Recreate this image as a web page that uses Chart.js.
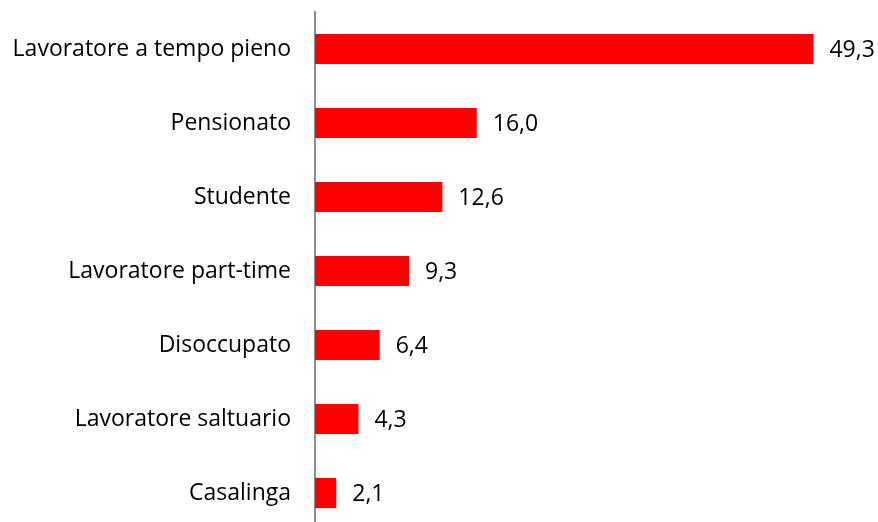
<!DOCTYPE html>
<html>
<head>
<meta charset="utf-8">
<script src="https://cdn.jsdelivr.net/npm/chart.js@4.4.0/dist/chart.umd.min.js"></script>
<style>
  html, body { margin: 0; padding: 0; background: #fff; overflow: hidden; }
  #box { width: 878px; height: 522px; overflow: hidden; }
</style>
</head>
<body>
<div id="box"><canvas id="myCanvasOccupazione" width="878" height="530"></canvas></div>
<script>
var categorie = ['Lavoratore a tempo pieno', 'Pensionato', 'Studente', 'Lavoratore part-time',
                 'Disoccupato', 'Lavoratore saltuario', 'Casalinga'];
var percentuali = [49.3, 16.0, 12.6, 9.3, 6.4, 4.3, 2.1];

var fontBase = "'Open Sans', 'Noto Sans', sans-serif";

// etichette dei valori a destra delle barre
var etichetteValori = {
    id: 'etichetteValori',
    afterDatasetsDraw: function(chart) {
        var ctx = chart.ctx;
        var meta = chart.getDatasetMeta(0);
        ctx.save();
        ctx.font = '23px ' + fontBase;
        ctx.fillStyle = '#000';
        ctx.textAlign = 'left';
        ctx.textBaseline = 'middle';
        meta.data.forEach(function(bar, i) {
            var testo = percentuali[i].toFixed(1).replace('.', ',');
            ctx.fillText(testo, bar.x + 16, bar.y + 1);
        });
        ctx.restore();
    }
};

var grafico = new Chart(document.getElementById('myCanvasOccupazione'), {
    type: 'bar',
    data: {
        labels: categorie,
        datasets: [{
            data: percentuali,
            backgroundColor: '#ff0000',
            borderWidth: 0,
            barPercentage: 0.8,
            categoryPercentage: 0.51
        }]
    },
    plugins: [etichetteValori],
    options: {
        indexAxis: 'y',
        responsive: false,
        animation: false,
        layout: { padding: { top: 12, right: 7, bottom: 0, left: 0 } },
        plugins: {
            legend: { display: false },
            tooltip: { enabled: false }
        },
        scales: {
            x: {
                display: false,
                min: 0,
                max: 55
            },
            y: {
                afterFit: function(scale) {
                    scale.width = 315;
                    scale.paddingTop = 0;
                    scale.paddingBottom = 0;
                },
                grid: { display: false, drawTicks: false },
                border: { display: true, color: '#8c8c8c', width: 2 },
                ticks: {
                    color: '#000',
                    padding: 24,
                    font: { family: fontBase, size: 23 }
                }
            }
        }
    }
});
</script>
</body>
</html>
